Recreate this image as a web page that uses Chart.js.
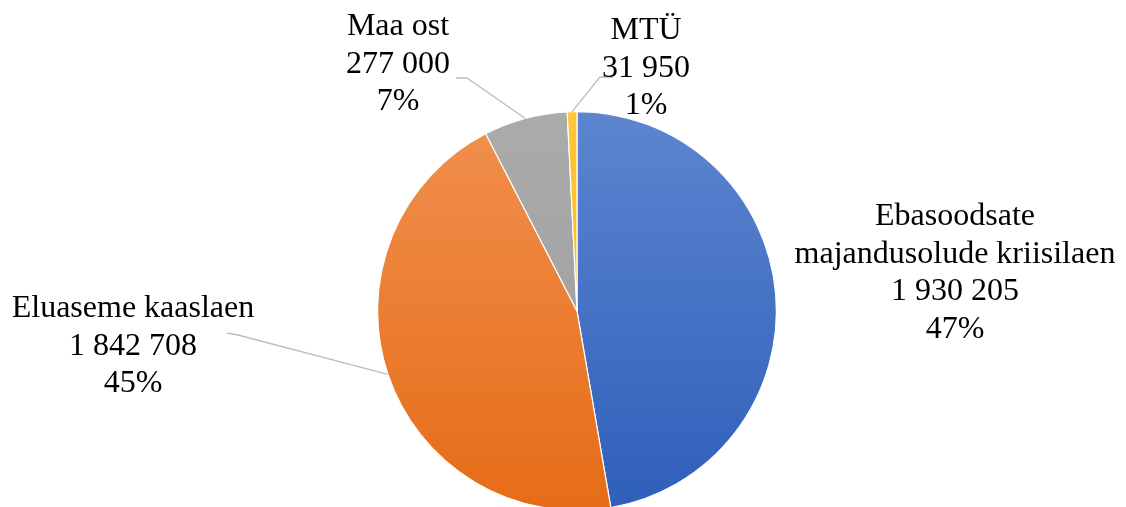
<!DOCTYPE html>
<html>
<head>
<meta charset="utf-8">
<script src="https://cdn.jsdelivr.net/npm/chart.js@4.4.0/dist/chart.umd.min.js"></script>
<style>
  html, body { margin: 0; padding: 0; background: #fff; overflow: hidden; }
  #wrap { width: 1126px; height: 511px; position: relative; }
</style>
</head>
<body>
<div id="wrap"><canvas id="chart"></canvas></div>
<script>
var categories = ['Ebasoodsate majandusolude kriisilaen', 'Eluaseme kaaslaen', 'Maa ost', 'MTÜ'];
var labelLines = [['Ebasoodsate', 'majandusolude kriisilaen'], ['Eluaseme kaaslaen'], ['Maa ost'], ['MTÜ']];
var amounts = [1930205, 1842708, 277000, 31950];
var amountLabels = ['1 930 205', '1 842 708', '277 000', '31 950'];
var percentLabels = ['47%', '45%', '7%', '1%'];

// top/bottom colours of each slice's vertical shading
var sliceColors = [
  ['#5d85d0', '#2e5fba'],
  ['#f1904f', '#e66c17'],
  ['#ababab', '#9c9c9c'],
  ['#ffc53a', '#f5b400']
];

function shade(ctx) {
  var area = ctx.chart.chartArea;
  if (!area) return sliceColors[ctx.dataIndex][0];
  var g = ctx.chart.ctx.createLinearGradient(0, area.top, 0, area.bottom);
  g.addColorStop(0, sliceColors[ctx.dataIndex][0]);
  g.addColorStop(1, sliceColors[ctx.dataIndex][1]);
  return g;
}

// where each label block sits (centre x, first baseline) and its leader elbow
var labelPlaces = [
  { x: 955, y: 225, leader: null },
  { x: 133, y: 317, leader: [[238, 335], [227, 333]] },
  { x: 398, y: 35, leader: [[467, 78], [456, 78]] },
  { x: 646, y: 39, leader: [[600, 77], [613, 77]] }
];

var sliceLabels = {
  id: 'sliceLabels',
  afterDraw: function (chart) {
    var ctx = chart.ctx;
    var arcs = chart.getDatasetMeta(0).data;
    ctx.save();
    arcs.forEach(function (arc, i) {
      var p = labelPlaces[i];
      var props = arc.getProps(['x', 'y', 'startAngle', 'endAngle', 'outerRadius'], true);
      var mid = (props.startAngle + props.endAngle) / 2;
      if (p.leader) {
        ctx.beginPath();
        ctx.strokeStyle = '#b4bfcd';
        ctx.lineWidth = 1.3;
        ctx.moveTo(props.x + Math.cos(mid) * props.outerRadius, props.y + Math.sin(mid) * props.outerRadius);
        ctx.lineTo(p.leader[0][0], p.leader[0][1]);
        ctx.lineTo(p.leader[1][0], p.leader[1][1]);
        ctx.stroke();
      }
      var lines = labelLines[i].concat([amountLabels[i], percentLabels[i]]);
      ctx.fillStyle = '#000';
      ctx.font = '32px "Liberation Serif", "Times New Roman", serif';
      ctx.textAlign = 'center';
      ctx.textBaseline = 'alphabetic';
      lines.forEach(function (t, k) {
        ctx.fillText(t, p.x, p.y + k * 37.5);
      });
    });
    ctx.restore();
  }
};

new Chart(document.getElementById('chart'), {
  type: 'pie',
  data: {
    labels: categories,
    datasets: [{
      data: amounts,
      backgroundColor: shade,
      borderColor: '#ffffff',
      borderWidth: 1.2
    }]
  },
  options: {
    responsive: true,
    maintainAspectRatio: false,
    animation: false,
    layout: { padding: { left: 377, right: 349, top: 111, bottom: 0 } },
    plugins: {
      legend: { display: false },
      tooltip: { enabled: false }
    }
  },
  plugins: [sliceLabels]
});
</script>
</body>
</html>
